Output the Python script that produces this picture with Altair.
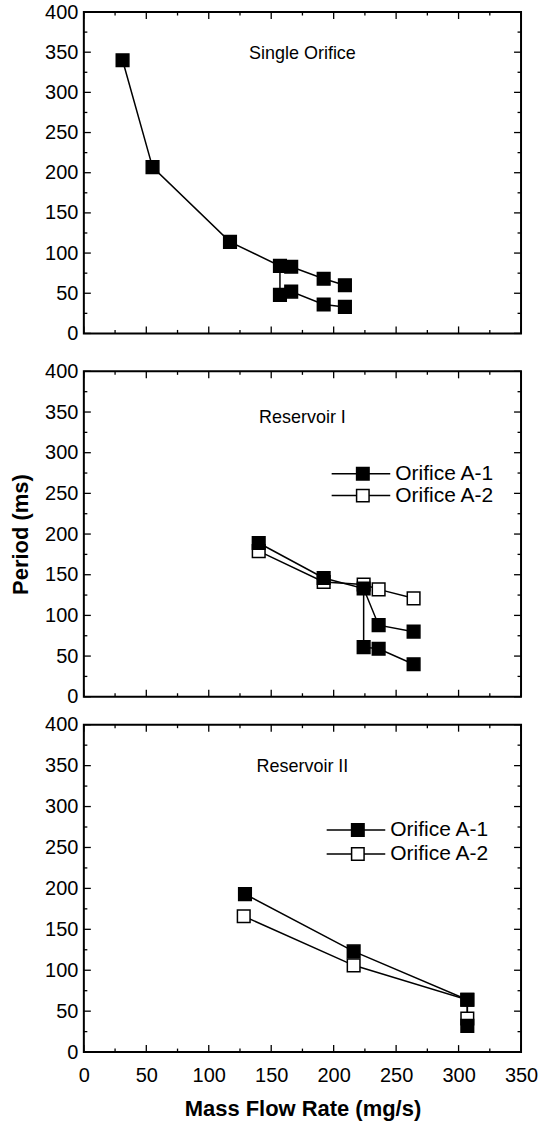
import altair as alt
import pandas as pd

FONT = "Liberation Sans"
W = 438
H1, H2, H3 = 322, 326, 328

# ---------------- data ----------------
# Panel 1: Single Orifice
so_upper_x = [31, 55, 117, 157, 166, 192, 209]
so_upper_y = [340, 207, 114, 84, 83, 68, 60]
so_lower_x = [157, 166, 192, 209]
so_lower_y = [48, 52, 36, 33]

# Panel 2: Reservoir I
r1_a1_upper_x = [140, 192, 224, 236, 264]
r1_a1_upper_y = [189, 146, 133, 88, 80]
r1_a1_lower_x = [224, 236, 264]
r1_a1_lower_y = [61, 59, 40]
r1_a2_x = [140, 192, 224, 236, 264]
r1_a2_y = [179, 141, 138, 132, 121]

# Panel 3: Reservoir II
r2_a1_x = [129, 216, 307, 307]
r2_a1_y = [193, 123, 64, 32]
r2_a2_x = [128, 216, 307, 307]
r2_a2_y = [166, 106, 64, 41]

series_names = ["Orifice A-1", "Orifice A-2"]
panel_titles = ["Single Orifice", "Reservoir I", "Reservoir II"]

x_major = [0, 50, 100, 150, 200, 250, 300, 350]
x_minor = [25, 75, 125, 175, 225, 275, 325]
y_major = [0, 50, 100, 150, 200, 250, 300, 350, 400]
y_minor = [25, 75, 125, 175, 225, 275, 325, 375]

# ---------------- helpers ----------------
xs = alt.Scale(domain=[0, 350], nice=False, zero=False)
ys = alt.Scale(domain=[0, 400], nice=False, zero=False)
fill_scale = alt.Scale(domain=series_names, range=["black", "white"])

SYMBOL = "M-5,0H-1M1,0H4.4M-1,-1H1V1H-1Z"


def seg(xv, yv, name):
    return [{"x": a, "y": b, "seg": name, "ord": i} for i, (a, b) in enumerate(zip(xv, yv))]


def pts(xv, yv, name):
    return pd.DataFrame({"x": xv, "y": yv, "series": name})


def y_axis(title=None):
    kw = dict(values=y_major, labelFontSize=20, labelFont=FONT, labelColor="black",
              labelPadding=6, ticks=False, domain=False, grid=False, labelFlush=False)
    if title:
        kw.update(title=title, titleFontSize=22, titleFont=FONT, titleFontWeight="bold",
                  titleColor="black", titlePadding=12)
    else:
        kw.update(title=None)
    return alt.Axis(**kw)


def x_axis(show, gap):
    if not show:
        return alt.Axis(values=x_major, labels=False, ticks=False, domain=False, grid=False,
                        title=None, minExtent=gap, maxExtent=gap)
    return alt.Axis(values=x_major, labelFontSize=20, labelFont=FONT, labelColor="black",
                    labelPadding=13, ticks=False, domain=False, grid=False, labelFlush=False,
                    title="Mass Flow Rate (mg/s)", titleFontSize=22, titleFont=FONT,
                    titleFontWeight="bold", titleColor="black", titlePadding=14)


def tick_layers(H, xa, ya):
    out = []
    for vals, ln in ((x_major, 7), (x_minor, 3.5)):
        d = pd.DataFrame({"v": vals})
        base = alt.Chart(d).mark_rule(color="black", strokeWidth=1.3)
        out.append(base.encode(x=alt.X("v:Q", scale=xs, axis=xa),
                               y=alt.value(H), y2=alt.value(H - ln)))
        out.append(base.encode(x=alt.X("v:Q", scale=xs, axis=xa),
                               y=alt.value(0), y2=alt.value(ln)))
    for vals, ln in ((y_major, 7), (y_minor, 3.5)):
        d = pd.DataFrame({"v": vals})
        base = alt.Chart(d).mark_rule(color="black", strokeWidth=1.3)
        out.append(base.encode(y=alt.Y("v:Q", scale=ys, axis=ya),
                               x=alt.value(0), x2=alt.value(ln)))
        out.append(base.encode(y=alt.Y("v:Q", scale=ys, axis=ya),
                               x=alt.value(W), x2=alt.value(W - ln)))
    return out


def legend(lx, ly, rp):
    return alt.Legend(orient="none", legendX=lx, legendY=ly, title=None,
                      symbolType=SYMBOL, symbolSize=156, symbolStrokeColor="black",
                      symbolStrokeWidth=1.5, symbolOpacity=1,
                      labelFont=FONT, labelFontSize=21, labelColor="black",
                      labelOffset=22, rowPadding=rp, padding=0)


def title(text, off):
    return alt.TitleParams(text=text, fontSize=18, font=FONT, fontWeight="normal",
                           color="black", anchor="middle", frame="group",
                           offset=off, baseline="middle")


def panel(line_rows, open_df, filled_df, H, ttl, toff, ytitle=None, showx=False, gap=0, leg=None):
    xa = x_axis(showx, gap)
    ya = y_axis(ytitle)
    ld = pd.DataFrame(line_rows)
    lines = alt.Chart(ld).mark_line(color="black", strokeWidth=1.5).encode(
        x=alt.X("x:Q", scale=xs, axis=xa),
        y=alt.Y("y:Q", scale=ys, axis=ya),
        detail="seg:N",
        order="ord:Q",
    )
    layers = [lines] + tick_layers(H, xa, ya)
    for df in (open_df, filled_df):
        if df is None:
            continue
        if leg is None:
            fill = alt.value("black")
        else:
            fill = alt.Fill("series:N", scale=fill_scale, legend=leg)
        layers.append(
            alt.Chart(df).mark_point(shape="square", filled=True, size=160, opacity=1,
                                     strokeWidth=1.5).encode(
                x=alt.X("x:Q", scale=xs, axis=xa),
                y=alt.Y("y:Q", scale=ys, axis=ya),
                fill=fill,
                stroke=alt.value("black"),
            )
        )
    return alt.layer(*layers).properties(width=W, height=H, title=title(ttl, toff))


# Panel 1
p1_lines = (seg(so_upper_x, so_upper_y, "up")
            + seg([so_upper_x[3], so_lower_x[0]], [so_upper_y[3], so_lower_y[0]], "link")
            + seg(so_lower_x, so_lower_y, "low"))
p1_pts = pts(so_upper_x + so_lower_x, so_upper_y + so_lower_y, "single")
p1 = panel(p1_lines, None, p1_pts, H1, panel_titles[0], -70, gap=26)

# Panel 2
p2_lines = (seg(r1_a1_upper_x, r1_a1_upper_y, "a1up")
            + seg([r1_a1_upper_x[2], r1_a1_lower_x[0]], [r1_a1_upper_y[2], r1_a1_lower_y[0]], "a1link")
            + seg(r1_a1_lower_x, r1_a1_lower_y, "a1low")
            + seg(r1_a2_x, r1_a2_y, "a2"))
p2_open = pts(r1_a2_x, r1_a2_y, series_names[1])
p2_fill = pts(r1_a1_upper_x + r1_a1_lower_x, r1_a1_upper_y + r1_a1_lower_y, series_names[0])
p2 = panel(p2_lines, p2_open, p2_fill, H2, panel_titles[1], -75, ytitle="Period (ms)",
           gap=16, leg=legend(269, 92, 0))

# Panel 3
p3_lines = seg(r2_a1_x, r2_a1_y, "a1") + seg(r2_a2_x, r2_a2_y, "a2")
p3_open = pts(r2_a2_x, r2_a2_y, series_names[1])
p3_fill = pts(r2_a1_x, r2_a1_y, series_names[0])
p3 = panel(p3_lines, p3_open, p3_fill, H3, panel_titles[2], -70, showx=True,
           leg=legend(264, 95, 2))

chart = (
    alt.vconcat(p1, p2, p3, spacing=0)
    .resolve_scale(fill="independent")
    .resolve_legend(fill="independent")
    .properties(padding={"left": 8, "top": 0, "right": 0, "bottom": 0}, background="white")
    .configure_view(stroke="black", strokeWidth=2)
)

chart.save("out.html", embed_options={"renderer": "svg", "actions": False})
